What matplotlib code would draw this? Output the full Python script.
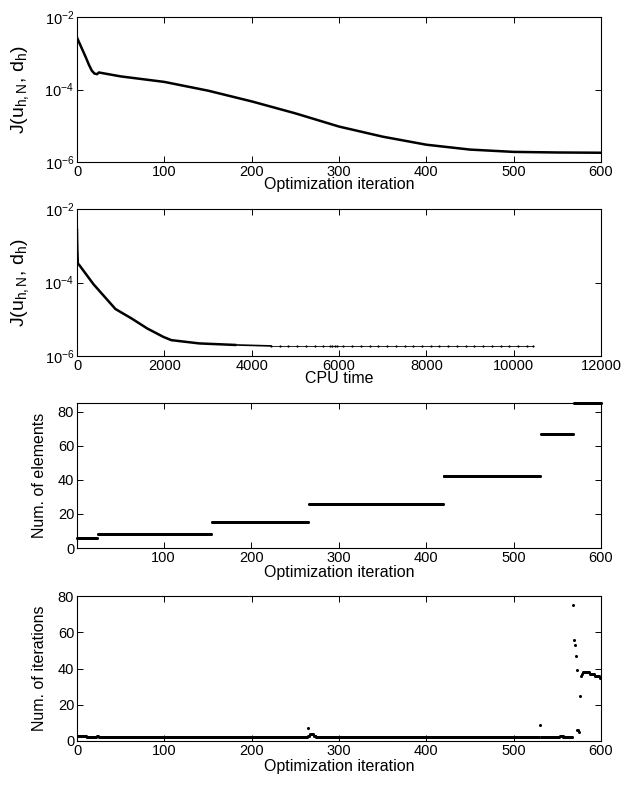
import numpy as np
import matplotlib
matplotlib.use("Agg")
import matplotlib.pyplot as plt
from matplotlib.ticker import FixedLocator, NullLocator

plt.rcParams['font.family'] = ['Liberation Sans', 'DejaVu Sans']
plt.rcParams['mathtext.fontset'] = 'custom'
plt.rcParams['mathtext.rm'] = 'Liberation Sans'
plt.rcParams['mathtext.it'] = 'Liberation Sans:italic'

# ---- Panel 1: cost vs optimization iteration ----
iter1 = [0, 5, 10, 14, 17, 20, 23, 25, 50, 100, 150, 200, 250, 300, 350, 400,
         450, 500, 550, 600]
J1 = [2.7e-3, 1.45e-3, 7.8e-4, 4.6e-4, 3.3e-4, 2.75e-4, 2.65e-4, 2.95e-4,
      2.3e-4, 1.62e-4, 9.3e-5, 4.7e-5, 2.2e-5, 9.5e-6, 5.0e-6, 3.0e-6,
      2.2e-6, 1.9e-6, 1.83e-6, 1.8e-6]

# ---- Panel 2: cost vs CPU time ----
cpu_dense = [0, 3, 8, 15, 20, 60, 380, 880, 1250, 1610, 1980, 2160, 2800,
             3620]
J_dense = [2.7e-3, 1.45e-3, 7.8e-4, 4.6e-4, 3.3e-4, 2.9e-4, 8.9e-5, 1.9e-5,
           1.05e-5, 5.6e-6, 3.3e-6, 2.7e-6, 2.2e-6, 2.0e-6]
cpu_mid = [3620, 4440]
J_mid = [2.0e-6, 1.88e-6]
cpu_tail = [4440, 4640, 4840, 5040, 5240, 5440, 5640, 5800, 5850, 5900, 5950,
            6100, 6300, 6500, 6700, 6900, 7100, 7300, 7500, 7700, 7900, 8100,
            8300, 8500, 8700, 8900, 9100, 9300, 9500, 9700, 9900, 10100,
            10300, 10450]
J_tail_level = 1.87e-6

# ---- Panel 3: number of elements (runs) ----
elem_start = [1, 25, 155, 266, 420, 531, 569]
elem_end = [24, 154, 265, 419, 530, 568, 600]
elem_value = [6, 8, 15, 26, 42, 67, 85]

# ---- Panel 4: number of iterations (runs) ----
nit_start = [0, 11, 23, 25, 264, 265, 267, 271, 274, 530, 531, 553, 557,
             568, 569, 570, 571, 572, 573, 574, 575, 576, 577, 578, 579,
             587, 593, 599]
nit_end = [10, 22, 24, 263, 264, 266, 270, 273, 529, 530, 552, 556, 567,
           568, 569, 570, 571, 572, 573, 574, 575, 576, 577, 578, 586,
           592, 598, 600]
nit_value = [3, 2, 3, 2, 7, 3, 4, 3, 2, 9, 2, 3, 2,
             75, 56, 53, 47, 39, 6, 6, 5, 25, 36, 37, 38,
             37, 36, 35]

W, H = 624, 785
fig = plt.figure(figsize=(W / 100, H / 100), dpi=100)

left = 77 / W
width = 524 / W


def make_ax(top_px, bot_px):
    return fig.add_axes([left, 1 - bot_px / H, width, (bot_px - top_px) / H])


ax1 = make_ax(17, 162)
ax2 = make_ax(209, 356)
ax3 = make_ax(403, 548)
ax4 = make_ax(596, 741)

TICK_FS = 10.5
LABEL_FS = 11.5
JLABEL_FS = 14

for ax in (ax1, ax2, ax3, ax4):
    for s in ax.spines.values():
        s.set_linewidth(0.8)
    ax.tick_params(direction='in', top=True, right=True, length=4,
                   width=0.7, labelsize=TICK_FS, pad=2)
    ax.tick_params(which='minor', length=0)

jlabel = r'J(u$_\mathregular{h,N}$, d$_\mathregular{h}$)'

# Panel 1
ax1.plot(iter1, J1, color='black', lw=1.8, solid_joinstyle='round')
ax1.set_yscale('log')
ax1.set_xlim(0, 600)
ax1.set_ylim(1e-6, 1e-2)
ax1.yaxis.set_major_locator(FixedLocator([1e-6, 1e-4, 1e-2]))
ax1.yaxis.set_minor_locator(NullLocator())
ax1.set_xticks([0, 100, 200, 300, 400, 500, 600])
ax1.set_xlabel('Optimization iteration', fontsize=LABEL_FS, labelpad=-1)
ax1.set_ylabel(jlabel, fontsize=JLABEL_FS)
ax1.yaxis.set_label_coords(-0.088, 0.5)

# Panel 2
ax2.plot(cpu_dense, J_dense, color='black', lw=1.8, solid_joinstyle='round')
ax2.plot(cpu_mid, J_mid, color='black', lw=1.2, solid_joinstyle='round')
ax2.plot(cpu_tail, np.full(len(cpu_tail), J_tail_level), color='black',
         lw=0.6, marker='o', ms=1.6, mew=0)
ax2.set_yscale('log')
ax2.set_xlim(0, 12000)
ax2.set_ylim(1e-6, 1e-2)
ax2.yaxis.set_major_locator(FixedLocator([1e-6, 1e-4, 1e-2]))
ax2.yaxis.set_minor_locator(NullLocator())
ax2.set_xticks([0, 2000, 4000, 6000, 8000, 10000, 12000])
ax2.set_xlabel('CPU time', fontsize=LABEL_FS, labelpad=-1)
ax2.set_ylabel(jlabel, fontsize=JLABEL_FS)
ax2.yaxis.set_label_coords(-0.088, 0.5)

# Panel 3
for s, e, v in zip(elem_start, elem_end, elem_value):
    xs = np.arange(s, e + 1)
    ax3.plot(xs, np.full(len(xs), v), linestyle='none', marker='o', ms=2.2,
             mew=0, color='black', clip_on=False)
ax3.set_xlim(1, 600)
ax3.set_ylim(0, 85)
ax3.set_xticks([100, 200, 300, 400, 500, 600])
ax3.set_yticks([0, 20, 40, 60, 80])
ax3.set_xlabel('Optimization iteration', fontsize=LABEL_FS, labelpad=0)
ax3.set_ylabel('Num. of elements', fontsize=LABEL_FS)
ax3.yaxis.set_label_coords(-0.058, 0.5)

# Panel 4
for s, e, v in zip(nit_start, nit_end, nit_value):
    xs = np.arange(s, e + 1)
    ax4.plot(xs, np.full(len(xs), v), linestyle='none', marker='o', ms=2.2,
             mew=0, color='black')
ax4.set_xlim(0, 600)
ax4.set_ylim(0, 80)
ax4.set_xticks([0, 100, 200, 300, 400, 500, 600])
ax4.set_yticks([0, 20, 40, 60, 80])
ax4.set_xlabel('Optimization iteration', fontsize=LABEL_FS, labelpad=1)
ax4.set_ylabel('Num. of iterations', fontsize=LABEL_FS)
ax4.yaxis.set_label_coords(-0.058, 0.5)

fig.savefig('out.png', dpi=100)
